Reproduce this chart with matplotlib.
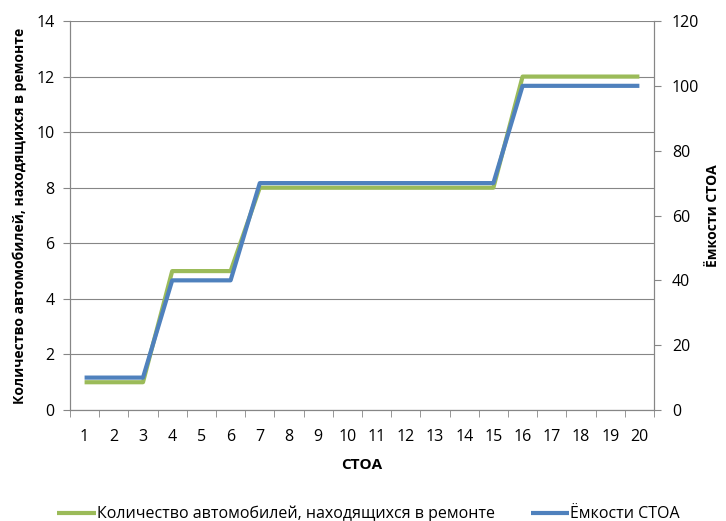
import matplotlib.pyplot as plt
import numpy as np

plt.rcParams['font.family'] = ['Open Sans', 'DejaVu Sans']

stoa = list(range(1, 21))
cars_in_repair = [1, 1, 1, 5, 5, 5, 8, 8, 8, 8, 8, 8, 8, 8, 8, 12, 12, 12, 12, 12]
capacity = [10, 10, 10, 40, 40, 40, 70, 70, 70, 70, 70, 70, 70, 70, 70, 100, 100, 100, 100, 100]

green = "#9BBB59"
blue = "#4F81BD"
grid_col = "#868686"

fig = plt.figure(figsize=(7.26, 5.21), dpi=100)
ax = fig.add_axes([0.0964, 0.213, 0.8044, 0.7467])
ax2 = ax.twinx()

l1, = ax.plot(stoa, cars_in_repair, color=green, lw=3, solid_capstyle="butt",
              label="Количество автомобилей, находящихся в ремонте", zorder=3)
l2, = ax2.plot(stoa, capacity, color=blue, lw=3, solid_capstyle="butt",
               label="Ёмкости СТОА", zorder=3)

ax.set_xlim(0.5, 20.5)
ax.set_ylim(0, 14)
ax2.set_ylim(0, 120)
ax.set_yticks(np.arange(0, 15, 2))
ax2.set_yticks(np.arange(0, 121, 20))
ax.set_xticks(stoa)
ax.set_xticks(np.arange(0.5, 21, 1), minor=True)
ax.tick_params(axis="x", which="major", length=0, pad=14, labelsize=11.5)
ax.tick_params(axis="x", which="minor", length=5, color=grid_col, direction="out")
ax.tick_params(axis="y", length=5, color=grid_col, labelsize=11.5, pad=6)
ax2.tick_params(axis="y", length=5, color=grid_col, labelsize=11.5, pad=8)

ax.grid(axis="y", color=grid_col, lw=0.8)
ax.set_axisbelow(True)
for a in (ax, ax2):
    a.spines["top"].set_visible(False)
    for s in ("left", "right", "bottom"):
        a.spines[s].set_color(grid_col)

ax.set_xlabel("СТОА", fontweight="bold", fontsize=11, labelpad=9)
ax.set_ylabel("Количество автомобилей, находящихся в ремонте", fontweight="bold", fontsize=10, labelpad=7)
ax2.set_ylabel("Ёмкости СТОА", fontweight="bold", fontsize=10, labelpad=5)

fig.legend(handles=[l1, l2], loc="center", bbox_to_anchor=(0.508, 7 / 521), ncol=2,
           frameon=False, fontsize=11.5, handlelength=2.4, handletextpad=0.1,
           columnspacing=2.2, borderpad=0)

fig.savefig("out.png", dpi=100)
